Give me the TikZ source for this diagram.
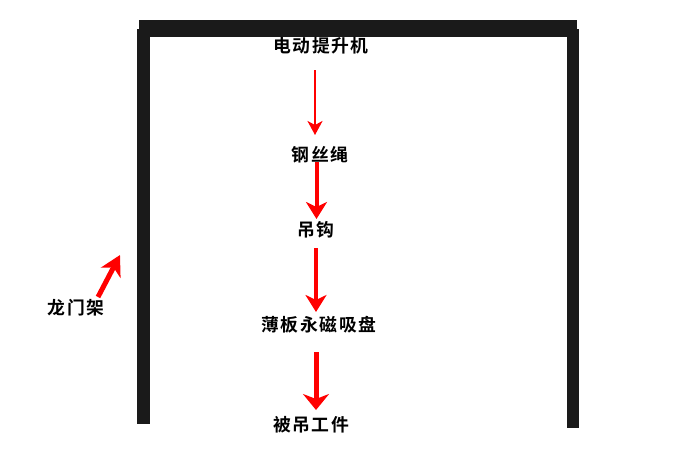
\documentclass[tikz,border=0pt]{standalone}
\usepackage{fontspec}
\newfontfamily\cjkb[LetterSpace=9]{Noto Sans CJK SC Bold}
\usetikzlibrary{arrows.meta}
\definecolor{frame}{HTML}{1A1A1A}
\tikzset{
  lbl/.style={inner sep=0pt, font=\fontsize{17.8}{18}\cjkb, text=black},
  post/.style={fill=frame, draw=none},
  flow/.style={draw=red, line width=#1},
}
\begin{document}
\begin{tikzpicture}[x=1pt,y=-1pt]
\useasboundingbox (0,0) rectangle (700,450);
\fill[white] (0,0) rectangle (700,450);
% gantry frame
\fill[post] (139,20) rectangle (577,37);
\fill[post] (137,29) rectangle (150,424);
\fill[post] (567,29) rectangle (579,428);
% labels
\node[lbl] (motor) at (321,46) {电动提升机};
\node[lbl] (rope) at (320,155) {钢丝绳};
\node[lbl] (hook) at (316,230) {吊钩};
\node[lbl] (chuck) at (319,325) {薄板永磁吸盘};
\node[lbl] (work) at (311,425) {被吊工件};
\node[lbl] (gantry) at (76,308) {龙门架};
\coordinate (gtip) at (120,255);
% arrows
\draw[flow=2.2pt, -{Stealth[length=14pt,width=15pt,inset=4pt]}] ([shift={(-6,24)}]motor.center) -- ([shift={(-5,-20)}]rope.center);
\draw[flow=4pt, -{Stealth[length=17pt,width=21pt,inset=5pt]}] ([shift={(-3.5,7)}]rope.center) -- ([shift={(0.5,-11)}]hook.center);
\draw[flow=4pt, -{Stealth[length=17pt,width=21pt,inset=5pt]}] ([shift={(0,18)}]hook.center) -- ([shift={(-3,-13)}]chuck.center);
\draw[flow=5pt, -{Stealth[length=16pt,width=26pt,inset=5pt]}] ([shift={(-3,27)}]chuck.center) -- ([shift={(5,-15)}]work.center);
\draw[flow=5pt, -{Stealth[length=20pt,width=22pt,inset=6pt]}] ([shift={(22,-11)}]gantry.center) -- (gtip);
\end{tikzpicture}
\end{document}
